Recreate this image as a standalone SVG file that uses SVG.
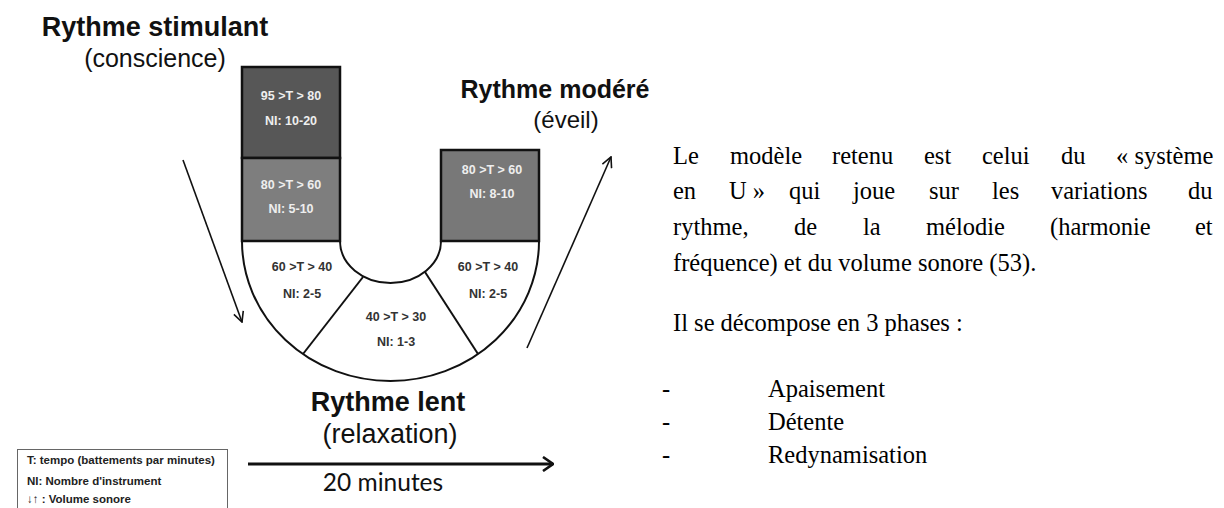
<svg xmlns="http://www.w3.org/2000/svg" width="1224" height="508" viewBox="0 0 1224 508">
<style>
.hb{font-family:"Liberation Sans",Arial,sans-serif;font-weight:bold;fill:#111;text-anchor:middle}
.hr{font-family:"Liberation Sans",Arial,sans-serif;fill:#111;text-anchor:middle}
.lt{font-family:"Liberation Sans",Arial,sans-serif;font-weight:bold;font-size:12.5px;fill:#eeeeee;text-anchor:middle}
.dt{font-family:"Liberation Sans",Arial,sans-serif;font-weight:bold;font-size:12.5px;fill:#333;text-anchor:middle}
.bx{stroke:#111;stroke-width:2.5}
.ln{stroke:#111;stroke-width:2;fill:none}
.ar{stroke:#111;stroke-width:1.6;fill:none}
.tx{font-family:"Liberation Serif","Times New Roman",serif;font-size:24.5px;fill:#000}
.lg{font-family:"Liberation Sans","DejaVu Sans",Arial,sans-serif;font-weight:bold;font-size:11.5px;fill:#222}
</style>
<defs>
<marker id="ah" viewBox="0 0 12 12" refX="11" refY="6" markerWidth="12" markerHeight="12" markerUnits="userSpaceOnUse" orient="auto">
<path d="M1,1 L11,6 L1,11" fill="none" stroke="#111" stroke-width="1.6"/>
</marker>
<marker id="ah2" viewBox="0 0 12 16" refX="11" refY="8" markerWidth="12" markerHeight="16" markerUnits="userSpaceOnUse" orient="auto">
<path d="M1,1 L11,8 L1,15" fill="none" stroke="#111" stroke-width="2.6"/>
</marker>
</defs>
<rect width="1224" height="508" fill="#fff"/>

<g id="u-base">
<path d="M242,241 A148.5,140 0 0 0 539,241 L441,241 A50.5,42 0 0 1 340,241 Z" fill="#fff" class="ln"/>
</g>
<g id="seg-left">
<line x1="363" y1="277" x2="303" y2="354" class="ln"/>
<text class="dt" x="302" y="271">60 &gt;T &gt; 40</text>
<text class="dt" x="302" y="298">NI: 2-5</text>
</g>
<g id="seg-mid">
<text class="dt" x="396" y="321">40 &gt;T &gt; 30</text>
<text class="dt" x="396" y="346">NI: 1-3</text>
</g>
<g id="seg-right">
<line x1="425" y1="272" x2="478" y2="354" class="ln"/>
<text class="dt" x="488" y="271">60 &gt;T &gt; 40</text>
<text class="dt" x="488" y="298">NI: 2-5</text>
</g>
<g id="box-95">
<rect x="242" y="67" width="98" height="91" fill="#575757" class="bx"/>
<text class="lt" x="291" y="100">95 &gt;T &gt; 80</text>
<text class="lt" x="291" y="125">NI: 10-20</text>
</g>
<g id="box-80-left">
<rect x="242" y="158" width="98" height="83" fill="#7e7e7e" class="bx"/>
<text class="lt" x="291" y="189">80 &gt;T &gt; 60</text>
<text class="lt" x="291" y="213">NI: 5-10</text>
</g>
<g id="box-80-right">
<rect x="441" y="150" width="98" height="91" fill="#787878" class="bx"/>
<text class="lt" x="492" y="174">80 &gt;T &gt; 60</text>
<text class="lt" x="492" y="198">NI: 8-10</text>
</g>

<g id="labels">
<text class="hb" x="155" y="36" font-size="27">Rythme stimulant</text>
<text class="hr" x="155" y="67" font-size="25">(conscience)</text>
<text class="hb" x="555" y="98" font-size="25">Rythme modéré</text>
<text class="hr" x="566" y="128" font-size="24">(éveil)</text>
<text class="hb" x="388" y="411" font-size="27">Rythme lent</text>
<text class="hr" x="390" y="443" font-size="27">(relaxation)</text>
<text x="383" y="491" font-family="Lato,'Open Sans',sans-serif" font-size="24.5" fill="#111" text-anchor="middle">20 minutes</text>
</g>

<g id="connectors">
<line x1="183" y1="160" x2="242" y2="322" class="ar" marker-end="url(#ah)"/>
<line x1="527" y1="348" x2="611" y2="157" class="ar" marker-end="url(#ah)"/>
<line x1="248" y1="464" x2="553" y2="464" stroke="#111" stroke-width="3" marker-end="url(#ah2)"/>
</g>

<g id="legend">
<rect x="17.5" y="449.5" width="210" height="70" fill="#fff" stroke="#666" stroke-width="1"/>
<text class="lg" x="27" y="464">T: tempo (battements par minutes)</text>
<text class="lg" x="27" y="485">NI: Nombre d'instrument</text>
<text class="lg" x="27" y="503">↓↑ : Volume sonore</text>
</g>

<g id="body-text" class="tx">
<text y="164"><tspan x="673">Le</tspan><tspan x="730">modèle</tspan><tspan x="832">retenu</tspan><tspan x="924">est</tspan><tspan x="982">celui</tspan><tspan x="1061">du</tspan><tspan x="1116">« système</tspan></text>
<text y="199"><tspan x="673">en</tspan><tspan x="729">U »</tspan><tspan x="789">qui</tspan><tspan x="853">joue</tspan><tspan x="929">sur</tspan><tspan x="992">les</tspan><tspan x="1051">variations</tspan><tspan x="1188">du</tspan></text>
<text y="235"><tspan x="673">rythme,</tspan><tspan x="794">de</tspan><tspan x="863">la</tspan><tspan x="926">mélodie</tspan><tspan x="1050">(harmonie</tspan><tspan x="1195">et</tspan></text>
<text y="271" x="673">fréquence) et du volume sonore (53).</text>
<text y="331" x="673">Il se décompose en 3 phases :</text>
<text y="397" x="662">-</text><text y="397" x="768">Apaisement</text>
<text y="430" x="662">-</text><text y="430" x="768">Détente</text>
<text y="463" x="662">-</text><text y="463" x="768">Redynamisation</text>
</g>
</svg>
